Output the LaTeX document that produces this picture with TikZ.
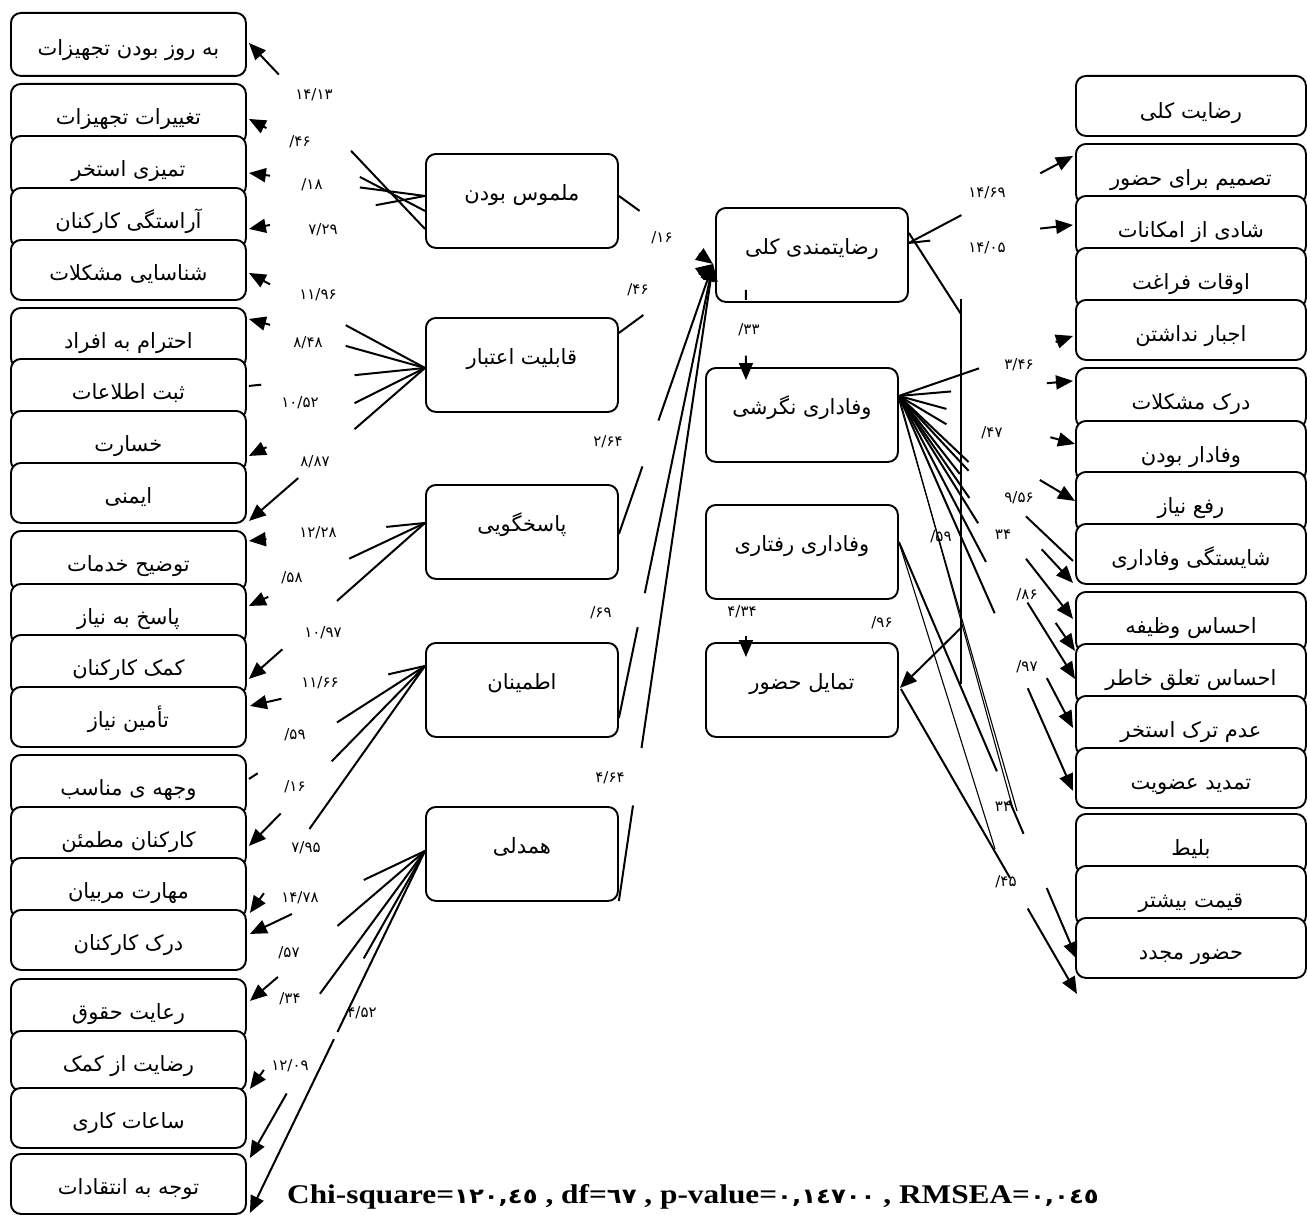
\documentclass[tikz,border=0pt]{standalone}
\usepackage{fontspec}
\setmainfont{Liberation Serif}
\newfontfamily\fa[Script=Arabic]{DejaVu Sans}
\TeXXeTstate=1
\usetikzlibrary{arrows.meta,calc}
\newcommand\bt[2]{\raisebox{#1}[0pt][0pt]{#2}}
\newcommand\slnum[1]{\hbox{/}\hbox{#1}}
\newcommand\gapcon[5]{\draw[ln] (#2) -- ($(#2)!#4!(#3)$); \draw[#1] ($(#2)!#5!(#3)$) -- (#3);}
\begin{document}
\begin{tikzpicture}[x=1pt,y=-1pt,
 bx/.style={draw, line width=1.9pt, rounded corners=10pt, fill=white, inner sep=0pt, anchor=north west, font=\fa\fontsize{21}{24}\selectfont},
 lb/.style={bx, minimum width=235pt, minimum height=60pt},
 mb/.style={bx, minimum width=192pt, minimum height=94pt},
 rb/.style={bx, minimum width=230pt, minimum height=60pt},
 ln/.style={line width=2pt},
 thinl/.style={line width=1.1pt},
 arr/.style={line width=2pt, -{Triangle[length=17pt,width=14pt]}},
 num/.style={font=\fa\fontsize{15}{17}\selectfont, inner sep=1pt},
]
\useasboundingbox (0,0) rectangle (1307,1215);

% ---------- left indicators
\node[lb, minimum height=63pt] (l1) at (10,12) {\bt{-11pt}{\beginR به روز بودن تجهیزات\endR}};
\node[lb] (l2) at (10,83) {\bt{-11pt}{\beginR تغییرات تجهیزات\endR}};
\node[lb] (l3) at (10,135) {\bt{-11pt}{\beginR تمیزی استخر\endR}};
\node[lb] (l4) at (10,187) {\bt{-11pt}{\beginR آراستگی کارکنان\endR}};
\node[lb] (l5) at (10,239) {\bt{-11pt}{\beginR شناسایی مشکلات\endR}};
\node[lb] (l6) at (10,307) {\bt{-11pt}{\beginR احترام به افراد\endR}};
\node[lb] (l7) at (10,358) {\bt{-11pt}{\beginR ثبت اطلاعات\endR}};
\node[lb] (l8) at (10,410) {\bt{-11pt}{\beginR خسارت\endR}};
\node[lb] (l9) at (10,462) {\bt{-11pt}{\beginR ایمنی\endR}};
\node[lb] (l10) at (10,530) {\bt{-11pt}{\beginR توضیح خدمات\endR}};
\node[lb] (l11) at (10,583) {\bt{-11pt}{\beginR پاسخ به نیاز\endR}};
\node[lb] (l12) at (10,634) {\bt{-11pt}{\beginR کمک کارکنان\endR}};
\node[lb] (l13) at (10,686) {\bt{-11pt}{\beginR تأمین نیاز\endR}};
\node[lb] (l14) at (10,754) {\bt{-11pt}{\beginR وجهه ی مناسب\endR}};
\node[lb] (l15) at (10,806) {\bt{-11pt}{\beginR کارکنان مطمئن\endR}};
\node[lb] (l16) at (10,857) {\bt{-11pt}{\beginR مهارت مربیان\endR}};
\node[lb] (l17) at (10,909) {\bt{-11pt}{\beginR درک کارکنان\endR}};
\node[lb] (l18) at (10,978) {\bt{-11pt}{\beginR رعایت حقوق\endR}};
\node[lb] (l19) at (10,1030) {\bt{-11pt}{\beginR رضایت از کمک\endR}};
\node[lb] (l20) at (10,1087) {\bt{-11pt}{\beginR ساعات کاری\endR}};
\node[lb] (l21) at (10,1153) {\bt{-11pt}{\beginR توجه به انتقادات\endR}};

% ---------- middle constructs
\node[mb] (M1) at (425,153) {\bt{0pt}{\beginR ملموس بودن\endR}};
\node[mb] (M2) at (425,317) {\bt{0pt}{\beginR قابلیت اعتبار\endR}};
\node[mb] (M3) at (425,484) {\bt{0pt}{\beginR پاسخگویی\endR}};
\node[mb] (M4) at (425,642) {\bt{0pt}{\beginR اطمینان\endR}};
\node[mb] (M5) at (425,806) {\bt{0pt}{\beginR همدلی\endR}};
\node[mb] (sat) at (715,207) {\bt{0pt}{\beginR رضایتمندی کلی\endR}};
\node[mb] (att) at (705,367) {\bt{0pt}{\beginR وفاداری نگرشی\endR}};
\node[mb] (beh) at (705,504) {\bt{0pt}{\beginR وفاداری رفتاری\endR}};
\node[mb] (tam) at (705,642) {\bt{0pt}{\beginR تمایل حضور\endR}};

% ---------- right indicators
\node[rb] (r1) at (1075,75) {\bt{-13pt}{\beginR رضایت کلی\endR}};
\node[rb] (r2) at (1075,143) {\bt{-12pt}{\beginR تصمیم برای حضور\endR}};
\node[rb] (r3) at (1075,195) {\bt{-12pt}{\beginR شادی از امکانات\endR}};
\node[rb] (r4) at (1075,247) {\bt{-12pt}{\beginR اوقات فراغت\endR}};
\node[rb] (r5) at (1075,299) {\bt{-12pt}{\beginR اجبار نداشتن\endR}};
\node[rb] (r6) at (1075,367) {\bt{-12pt}{\beginR درک مشکلات\endR}};
\node[rb] (r7) at (1075,420) {\bt{-12pt}{\beginR وفادار بودن\endR}};
\node[rb] (r8) at (1075,471) {\bt{-12pt}{\beginR رفع نیاز\endR}};
\node[rb] (r9) at (1075,523) {\bt{-12pt}{\beginR شایستگی وفاداری\endR}};
\node[rb] (r10) at (1075,591) {\bt{-12pt}{\beginR احساس وظیفه\endR}};
\node[rb] (r11) at (1075,643) {\bt{-12pt}{\beginR احساس تعلق خاطر\endR}};
\node[rb] (r12) at (1075,695) {\bt{-12pt}{\beginR عدم ترک استخر\endR}};
\node[rb] (r13) at (1075,747) {\bt{-12pt}{\beginR تمدید عضویت\endR}};
\node[rb] (r14) at (1075,813) {\bt{-12pt}{\beginR بلیط\endR}};
\node[rb] (r15) at (1075,865) {\bt{-12pt}{\beginR قیمت بیشتر\endR}};
\node[rb] (r16) at (1075,917) {\bt{-12pt}{\beginR حضور مجدد\endR}};

% ---------- coordinates on the boxes
\coordinate (s1a) at ($(M1.west)+(0,28)$);
\coordinate (s1b) at ($(M1.west)+(0,10)$);
\coordinate (s1c) at ($(M1.west)+(0,-5)$);
\coordinate (s2) at ($(M2.west)+(0,3)$);
\coordinate (s3) at ($(M3.west)+(0,-9)$);
\coordinate (s4) at ($(M4.west)+(0,-24)$);
\coordinate (s5) at ($(M5.west)+(0,-3)$);
\coordinate (t1) at ($(l1.east)+(2,-1.5)$);
\coordinate (t2) at ($(l2.east)+(2,5)$);
\coordinate (t3) at ($(l3.east)+(2,7)$);
\coordinate (t4) at ($(l4.east)+(2,11)$);
\coordinate (t5) at ($(l5.east)+(2,3)$);
\coordinate (t6) at ($(l6.east)+(2,-19)$);
\coordinate (t7) at ($(l7.east)+(2,-3)$);
\coordinate (t8) at ($(l8.east)+(2,15)$);
\coordinate (t9) at ($(l9.east)+(2,28)$);
\coordinate (t10) at ($(l10.east)+(2,-20)$);
\coordinate (t11) at ($(l11.east)+(2,-8)$);
\coordinate (t12) at ($(l12.east)+(2,14)$);
\coordinate (t13) at ($(l13.east)+(3,-11)$);
\coordinate (t14) at ($(l14.east)+(2,-6)$);
\coordinate (t15) at ($(l15.east)+(2,9)$);
\coordinate (t16) at ($(l16.east)+(3,25)$);
\coordinate (t17) at ($(l17.east)+(3,-6)$);
\coordinate (t18) at ($(l18.east)+(3,-8)$);
\coordinate (t19) at ($(l19.east)+(3,28)$);
\coordinate (t20) at ($(l21.east)+(3,-26)$);
\coordinate (t21) at ($(l21.east)+(3,29)$);

\coordinate (t0) at ($(sat.west)+(-2,9)$);
\coordinate (m1e) at ($(M1.east)+(0,-5)$);
\coordinate (m2e) at ($(M2.east)+(0,-32)$);
\coordinate (m3e) at ($(M3.east)+(0,2)$);
\coordinate (m4e) at ($(M4.east)+(0,28)$);
\coordinate (m5e) at ($(M5.east)+(0,47)$);
\coordinate (sa1) at ($(sat.south)+(-66,-13)$);
\coordinate (sa2) at ($(att.north)+(-56,13)$);
\coordinate (bt1) at ($(beh.south)+(-56,36)$);
\coordinate (bt2) at ($(tam.north)+(-56,15)$);
\coordinate (se) at ($(sat.east)+(0,-22)$);
\coordinate (j1) at ($(sat.east)+(52,59)$);
\coordinate (v1) at ($(sat.east)+(52,44)$);
\coordinate (v2) at ($(tam.east)+(62,-6)$);
\coordinate (j2) at ($(tam.east)+(62,-62)$);
\coordinate (te) at ($(tam.east)+(1,-2)$);

\coordinate (sr) at ($(sat.east)+(0,-12)$);
\coordinate (sA) at ($(att.east)+(0,-19)$);
\coordinate (sA2) at ($(att.east)+(0,-15)$);
\coordinate (sB) at ($(beh.east)+(0,-10)$);
\coordinate (sT) at ($(tam.east)+(2,-1)$);
\coordinate (u2) at ($(r2.west)+(-2,-18)$);
\coordinate (u3) at ($(r3.west)+(-2,-1)$);
\coordinate (u5) at ($(r5.west)+(-2,6)$);
\coordinate (u6) at ($(r6.west)+(-2,-17)$);
\coordinate (u7) at ($(r7.west)+(0,-7)$);
\coordinate (u8) at ($(r8.west)+(0,-1)$);
\coordinate (u9a) at ($(r9.west)+(-2,7)$);
\coordinate (u9b) at ($(r9.west)+(-2,29)$);
\coordinate (u10) at ($(r10.west)+(-2,-3)$);
\coordinate (u11a) at ($(r11.west)+(0,-23)$);
\coordinate (u11b) at ($(r11.west)+(0,5)$);
\coordinate (u12) at ($(r12.west)+(-2,2)$);
\coordinate (u13) at ($(r13.west)+(-2,13)$);
\coordinate (u16a) at ($(r16.west)+(2,11)$);
\coordinate (u16b) at ($(r16.west)+(2,46)$);
\coordinate (pE) at ($(r14.west)+(-80,5)$);
\coordinate (qE1) at ($(r14.west)+(-62,-35)$);
\coordinate (qE2) at ($(r14.west)+(-58,-33)$);

% ---------- connectors, left
\gapcon{arr}{s1a}{t1}{0.42}{0.83}
\gapcon{arr}{s1b}{t2}{0.37}{0.9}
\gapcon{arr}{s1c}{t3}{0.37}{0.88}
\gapcon{arr}{s1c}{t4}{0.28}{0.88}
\gapcon{arr}{s2}{t5}{0.45}{0.88}
\gapcon{arr}{s2}{t6}{0.45}{0.88}
\gapcon{ln}{s2}{t7}{0.4}{0.93}
\gapcon{arr}{s2}{t8}{0.4}{0.9}
\gapcon{arr}{s2}{t9}{0.4}{0.72}
\gapcon{arr}{s3}{t10}{0.22}{0.9}
\gapcon{arr}{s3}{t11}{0.43}{0.89}
\gapcon{arr}{s3}{t12}{0.5}{0.81}
\gapcon{arr}{s4}{t13}{0.21}{0.82}
\gapcon{ln}{s4}{t14}{0.5}{0.95}
\gapcon{arr}{s4}{t15}{0.53}{0.82}
\gapcon{arr}{s4}{t16}{0.66}{0.92}
\gapcon{arr}{s5}{t17}{0.35}{0.76}
\gapcon{arr}{s5}{t18}{0.5}{0.84}
\gapcon{arr}{s5}{t19}{0.6}{0.92}
\gapcon{arr}{s5}{t20}{0.35}{0.79}
\gapcon{arr}{s5}{t21}{0.5}{0.52}

% ---------- connectors, middle
\gapcon{arr}{m1e}{t0}{0.22}{0.85}
\gapcon{arr}{m2e}{t0}{0.26}{0.85}
\gapcon{arr}{m3e}{t0}{0.25}{0.42}
\gapcon{arr}{m4e}{t0}{0.2}{0.275}
\gapcon{arr}{m5e}{t0}{0.15}{0.24}
\gapcon{arr}{sa1}{sa2}{0.11}{0.73}
\draw[arr] (bt1) -- (bt2);
\draw[ln] (se) -- (j1);
\draw[ln] (v1) -- (v2);
\draw[arr] (j2) -- (te);

% ---------- connectors, right
\gapcon{arr}{sr}{u2}{0.32}{0.8}
\gapcon{arr}{sr}{u3}{0.13}{0.8}
\gapcon{arr}{sA}{u5}{0.46}{0.9}
\gapcon{arr}{sA}{u6}{0.3}{0.85}
\gapcon{arr}{sA}{u7}{0.27}{0.86}
\gapcon{arr}{sA}{u8}{0.27}{0.8}
\gapcon{ln}{sA}{u9a}{0.4}{0.73}
\gapcon{arr}{sA}{u9b}{0.4}{0.82}
\gapcon{arr}{sA}{u10}{0.35}{0.73}
\gapcon{arr}{sA}{u11a}{0.4}{0.89}
\gapcon{arr}{sA}{u11b}{0.45}{0.73}
\gapcon{arr}{sA}{u12}{0.5}{0.85}
\gapcon{arr}{sA}{u13}{0.55}{0.74}
\gapcon{arr}{sB}{u16a}{0.55}{0.83}
\draw[ln] ($(sB)!0.62!(u16a)$) -- ($(sB)!0.7!(u16a)$);
\gapcon{arr}{sT}{u16b}{0.62}{0.72}
\draw[thinl] (sB) -- (pE);
\draw[thinl] (sA) -- (qE1);
\draw[thinl] (sA2) -- (qE2);

% ---------- coefficient labels
\node[num] (n1) at (314,95) {۱۴/۱۳};
\node[num] (n2) at (300,142) {\slnum{۴۶}};
\node[num] (n3) at (312,185) {\slnum{۱۸}};
\node[num] (n4) at (323,230) {۷/۲۹};
\node[num] (n5) at (318,295) {۱۱/۹۶};
\node[num] (n6) at (308,343) {۸/۴۸};
\node[num] (n7) at (300,403) {۱۰/۵۲};
\node[num] (n8) at (315,462) {۸/۸۷};
\node[num] (n9) at (318,533) {۱۲/۲۸};
\node[num] (n10) at (292,578) {\slnum{۵۸}};
\node[num] (n11) at (323,633) {۱۰/۹۷};
\node[num] (n12) at (320,683) {۱۱/۶۶};
\node[num] (n13) at (295,735) {\slnum{۵۹}};
\node[num] (n14) at (295,787) {\slnum{۱۶}};
\node[num] (n15) at (306,848) {۷/۹۵};
\node[num] (n16) at (300,898) {۱۴/۷۸};
\node[num] (n17) at (289,953) {\slnum{۵۷}};
\node[num] (n18) at (290,999) {\slnum{۳۴}};
\node[num] (n19) at (362,1013) {۴/۵۲};
\node[num] (n20) at (290,1066) {۱۲/۰۹};
\node[num] (n21) at (662,238) {\slnum{۱۶}};
\node[num] (n22) at (638,290) {\slnum{۴۶}};
\node[num] (n23) at (608,442) {۲/۶۴};
\node[num] (n24) at (749,330) {\slnum{۳۳}};
\node[num] (n25) at (601,613) {\slnum{۶۹}};
\node[num] (n26) at (610,778) {۴/۶۴};
\node[num] (n27) at (742,612) {۴/۳۴};
\node[num] (n28) at (882,623) {\slnum{۹۶}};
\node[num] (n29) at (987,193) {۱۴/۶۹};
\node[num] (n30) at (987,248) {۱۴/۰۵};
\node[num] (n31) at (1019,365) {۳/۴۶};
\node[num] (n32) at (992,433) {\slnum{۴۷}};
\node[num] (n33) at (1019,498) {۹/۵۶};
\node[num] (n34) at (941,537) {\slnum{۵۹}};
\node[num] (n35) at (1003,535) {۳۴};
\node[num] (n36) at (1027,595) {\slnum{۸۶}};
\node[num] (n37) at (1027,667) {\slnum{۹۷}};
\node[num] (n38) at (1003,807) {۳۴};
\node[num] (n39) at (1006,882) {\slnum{۴۵}};

% ---------- fit statistics
\node[anchor=base west, inner sep=0pt] (fit) at (287,1203)
 {\scalebox{1.16}[1]{\fontsize{27}{30}\selectfont\bfseries Chi-square={\fa\fontsize{21}{24}\selectfont ١٢٠,٤٥} , df={\fa\fontsize{21}{24}\selectfont ٦٧} , p-value={\fa\fontsize{21}{24}\selectfont ٠,١٤٧٠٠} , RMSEA={\fa\fontsize{21}{24}\selectfont ٠,٠٤٥}}};
\end{tikzpicture}
\end{document}
